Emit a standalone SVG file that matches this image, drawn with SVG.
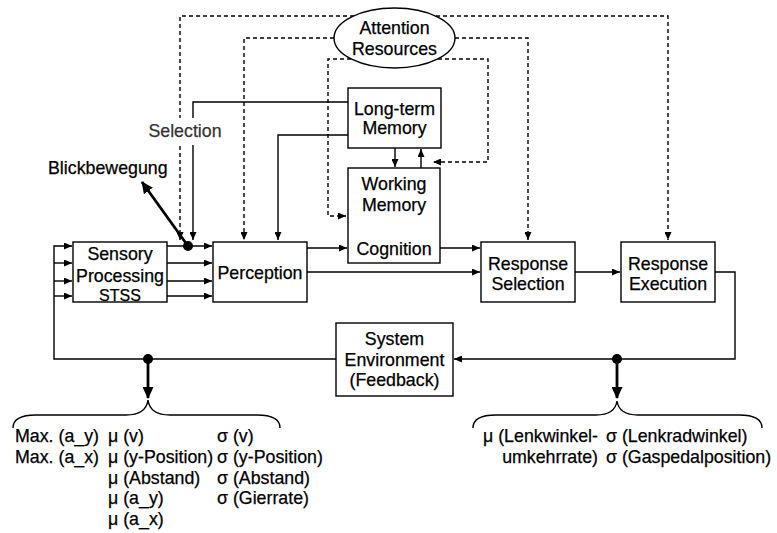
<svg xmlns="http://www.w3.org/2000/svg" width="777" height="533" viewBox="0 0 777 533">
<defs>
<marker id="ah" markerUnits="userSpaceOnUse" markerWidth="8" markerHeight="7" refX="8" refY="3.5" orient="auto"><path d="M0,0 L8,3.5 L0,7 z" fill="#000"/></marker>
<marker id="ahb" markerUnits="userSpaceOnUse" markerWidth="12" markerHeight="11" refX="11" refY="5.5" orient="auto"><path d="M0,0 L12,5.5 L0,11 z" fill="#000"/></marker>
</defs>
<style>
text{font-family:"Liberation Sans",Arial,sans-serif;font-size:17.8px;fill:#000;stroke:#000;stroke-width:0.25}
.c{text-anchor:middle}
.e{text-anchor:end}
.box{fill:#fff;stroke:#000;stroke-width:1.4}
.ln{fill:none;stroke:#000;stroke-width:1.4}
.da{fill:none;stroke:#000;stroke-width:1.4;stroke-dasharray:4,3}
.tk{fill:none;stroke:#000;stroke-width:2.8}
</style>
<rect width="777" height="533" fill="#fff"/>
<g id="connectors">
<path class="da" d="M354,16 H180 V118 M180,146 V240" marker-end="url(#ah)"/>
<path class="da" d="M436,16 H668 V240" marker-end="url(#ah)"/>
<path class="da" d="M334,38 H244 V240" marker-end="url(#ah)"/>
<path class="da" d="M455,38 H528 V240" marker-end="url(#ah)"/>
<path class="da" d="M351,59 H328 V216 H346" marker-end="url(#ah)"/>
<path class="da" d="M438,59 H488 V162 H433" marker-end="url(#ah)"/>
<path class="ln" d="M348,102 H193 V118"/>
<path class="ln" d="M193,145 V240" marker-end="url(#ah)"/>
<path class="ln" d="M348,135 H278 V240" marker-end="url(#ah)"/>
<path class="ln" d="M395,148 V167" marker-end="url(#ah)"/>
<path class="ln" d="M421,168 V149" marker-end="url(#ah)"/>
<path class="ln" d="M307,248 H347" marker-end="url(#ah)"/>
<path class="ln" d="M307,272 H480" marker-end="url(#ah)"/>
<path class="ln" d="M440,248 H480" marker-end="url(#ah)"/>
<path class="ln" d="M575,272 H620" marker-end="url(#ah)"/>
<path class="ln" d="M715,272 H735 V359 H454" marker-end="url(#ah)"/>
<path class="ln" d="M336,359 H54 V246 H72" marker-end="url(#ah)"/>
<path class="ln" d="M54,263 H72" marker-end="url(#ah)"/>
<path class="ln" d="M54,281 H72" marker-end="url(#ah)"/>
<path class="ln" d="M54,296 H72" marker-end="url(#ah)"/>
<path class="ln" d="M167,246 H212" marker-end="url(#ah)"/>
<path class="ln" d="M167,263 H212" marker-end="url(#ah)"/>
<path class="ln" d="M167,281 H212" marker-end="url(#ah)"/>
<path class="ln" d="M167,296 H212" marker-end="url(#ah)"/>
<circle cx="188" cy="246" r="5"/>
<path class="tk" d="M188,246 L142,182" marker-end="url(#ahb)"/>
<circle cx="148" cy="359" r="5"/>
<path class="tk" d="M148,359 V398" marker-end="url(#ahb)"/>
<circle cx="617" cy="359" r="5"/>
<path class="tk" d="M617,359 V398" marker-end="url(#ahb)"/>
<path class="ln" d="M13,428 Q13,415 36,415 L126,415 Q146,415 148,400 Q150,415 170,415 L257,415 Q280,415 280,428"/>
<path class="ln" d="M473,428 Q473,415 496,415 L596,415 Q615,415 617,401 Q619,415 638,415 L739,415 Q762,415 762,428"/>
</g>
<g id="attention">
<ellipse cx="394.5" cy="38" rx="60.5" ry="30" class="box"/>
<text class="c" x="394.5" y="34">Attention</text>
<text class="c" x="394.5" y="55">Resources</text>
</g>
<g id="ltm">
<rect class="box" x="348" y="88" width="93" height="60"/>
<text class="c" x="394.5" y="115">Long-term</text>
<text class="c" x="394.5" y="134">Memory</text>
</g>
<g id="wm">
<rect class="box" x="348" y="168" width="92" height="95"/>
<text class="c" x="394" y="190">Working</text>
<text class="c" x="394" y="211">Memory</text>
<text class="c" x="394" y="255">Cognition</text>
</g>
<g id="sensory">
<rect class="box" x="73" y="242" width="94" height="60"/>
<text class="c" x="120" y="260">Sensory</text>
<text class="c" x="120" y="282">Processing</text>
<text class="c" x="120" y="301" style="font-size:16px">STSS</text>
</g>
<g id="perception">
<rect class="box" x="213" y="242" width="94" height="60"/>
<text class="c" x="260" y="279">Perception</text>
</g>
<g id="rsel">
<rect class="box" x="481" y="242" width="94" height="60"/>
<text class="c" x="528" y="270">Response</text>
<text class="c" x="528" y="290">Selection</text>
</g>
<g id="rexec">
<rect class="box" x="621" y="242" width="94" height="60"/>
<text class="c" x="668" y="270">Response</text>
<text class="c" x="668" y="290">Execution</text>
</g>
<g id="sysenv">
<rect class="box" x="336" y="323" width="117" height="73"/>
<text class="c" x="394.5" y="345">System</text>
<text class="c" x="394.5" y="366">Environment</text>
<text class="c" x="394.5" y="386">(Feedback)</text>
</g>
<g id="labels">
<text class="c" x="185" y="137" style="fill:#333;stroke:#333">Selection</text>
<text x="48" y="174">Blickbewegung</text>
</g>
<g id="measures-left">
<text x="15" y="442">Max. (a_y)</text>
<text x="15" y="463">Max. (a_x)</text>
<text x="108" y="442">μ (v)</text>
<text x="108" y="463">μ (y-Position)</text>
<text x="108" y="484">μ (Abstand)</text>
<text x="108" y="504">μ (a_y)</text>
<text x="108" y="525">μ (a_x)</text>
<text x="217" y="442">σ (v)</text>
<text x="217" y="463">σ (y-Position)</text>
<text x="217" y="484">σ (Abstand)</text>
<text x="217" y="504">σ (Gierrate)</text>
</g>
<g id="measures-right">
<text class="e" x="598" y="442">μ (Lenkwinkel-</text>
<text class="e" x="598" y="463">umkehrrate)</text>
<text x="606" y="442">σ (Lenkradwinkel)</text>
<text x="606" y="463">σ (Gaspedalposition)</text>
</g>
</svg>
